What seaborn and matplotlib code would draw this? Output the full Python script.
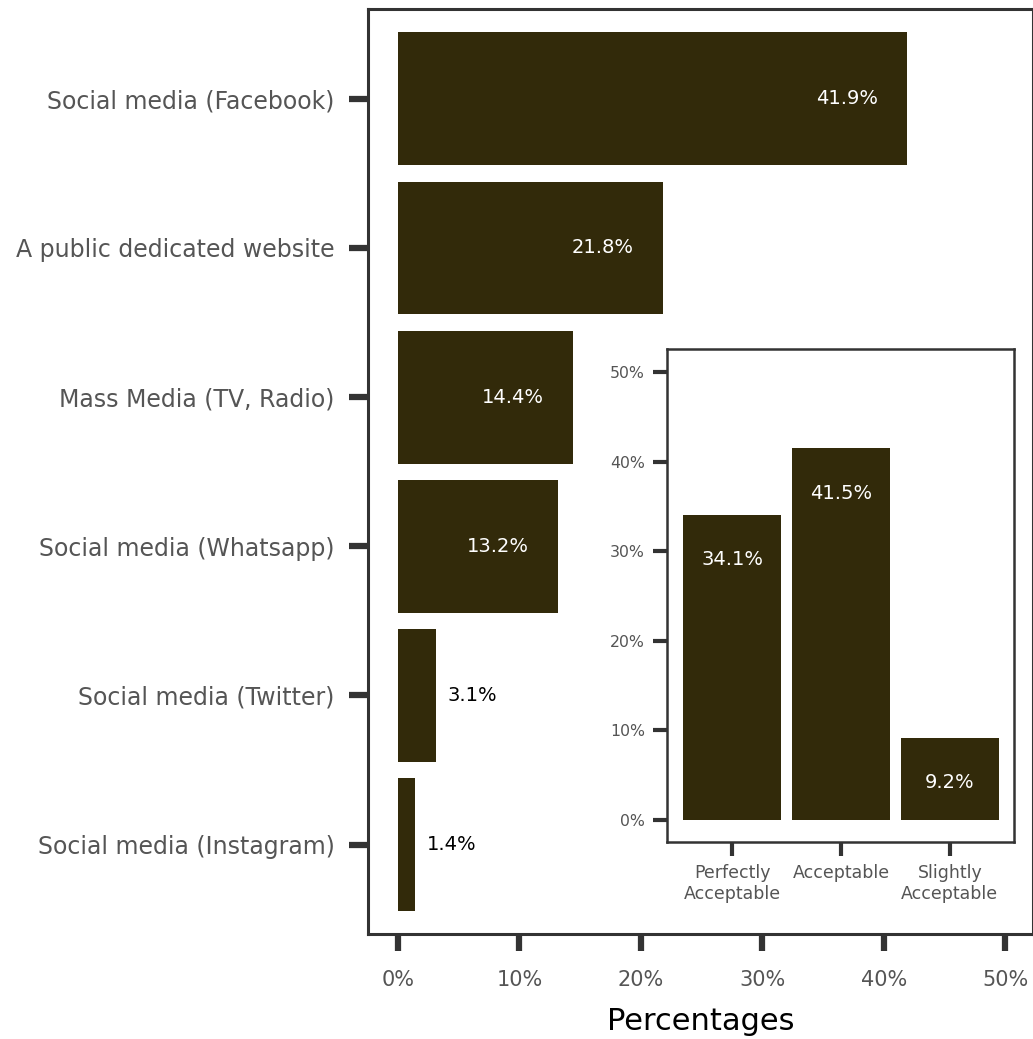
import matplotlib
matplotlib.use("Agg")
import matplotlib.pyplot as plt
import numpy as np
import pandas as pd
import seaborn as sns

channels = ["Social media (Facebook)", "A public dedicated website", "Mass Media (TV, Radio)",
            "Social media (Whatsapp)", "Social media (Twitter)", "Social media (Instagram)"]
channel_pct = [41.9, 21.8, 14.4, 13.2, 3.1, 1.4]

ratings = ["Perfectly\nAcceptable", "Acceptable", "Slightly\nAcceptable"]
rating_pct = [34.1, 41.5, 9.2]

x_ticks = [0, 10, 20, 30, 40, 50]
inset_ticks = [0, 10, 20, 30, 40, 50]


def main():
    sns.set_style("white")
    plt.rcParams['font.family'] = ['DejaVu Sans']
    bar_color = "#322a0a"
    spine_color = "#333333"
    label_color = "#555555"

    fig = plt.figure(figsize=(10.33, 10.39), dpi=100)
    ax = fig.add_axes([0.356, 0.101, 0.644, 0.890])

    df = pd.DataFrame({"channel": channels, "pct": channel_pct})
    sns.barplot(data=df, x="pct", y="channel", orient="h", color=bar_color,
                saturation=1, width=0.89, linewidth=0, ax=ax)
    ax.set_xlim(-2.5, 52.3)
    ax.set_ylim(5.6, -0.6)
    ax.set_xticks(x_ticks)
    ax.set_xticklabels([f"{t}%" for t in x_ticks])
    ax.set_ylabel("")
    ax.set_xlabel("Percentages", fontsize=22, color="black", labelpad=12)
    ax.tick_params(axis="x", length=12, width=4.5, color=spine_color, labelsize=15,
                   labelcolor=label_color, pad=14, bottom=True)
    ax.tick_params(axis="y", length=14, width=4.5, color=spine_color, labelsize=17,
                   labelcolor=label_color, pad=10, left=True)
    for s in ax.spines.values():
        s.set_color(spine_color)
        s.set_linewidth(2.2)

    for i, v in enumerate(channel_pct):
        if v > 10:
            ax.text(v - 2.4, i, f"{v}%", ha="right", va="center", color="white", fontsize=14)
        else:
            ax.text(v + 1.0, i, f"{v}%", ha="left", va="center", color="black", fontsize=14)

    ins = fig.add_axes([0.6457, 0.1896, 0.3359, 0.4745])
    idf = pd.DataFrame({"rating": ratings, "pct": rating_pct})
    sns.barplot(data=idf, x="rating", y="pct", color=bar_color, saturation=1,
                width=0.9, linewidth=0, ax=ins)
    ins.set_xlim(-0.6, 2.59)
    ins.set_ylim(-2.46, 52.6)
    ins.set_yticks(inset_ticks)
    ins.set_yticklabels([f"{t}%" for t in inset_ticks])
    ins.set_xlabel("")
    ins.set_ylabel("")
    ins.tick_params(axis="y", length=10, width=3, color=spine_color, labelsize=11.3,
                    labelcolor=label_color, pad=6, left=True)
    ins.tick_params(axis="x", length=10, width=3, color=spine_color, labelsize=12.5,
                    labelcolor=label_color, pad=6, bottom=True)
    for s in ins.spines.values():
        s.set_color(spine_color)
        s.set_linewidth(1.8)
    for i, v in enumerate(rating_pct):
        ins.text(i, v - 5.0, f"{v}%", ha="center", va="center", color="white", fontsize=14)

    fig.savefig("out.png", dpi=100)


if __name__ == "__main__":
    main()
